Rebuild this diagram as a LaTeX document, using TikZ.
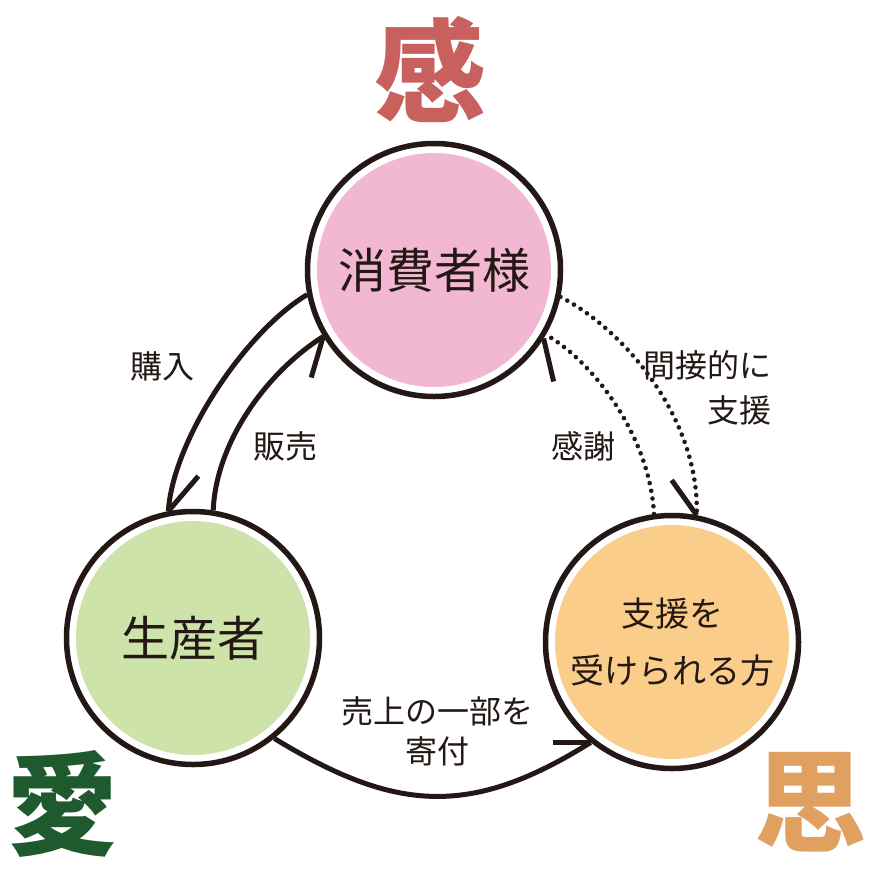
\documentclass[tikz,border=0pt]{standalone}
\usepackage{fontspec}
\setmainfont{Noto Sans CJK JP}
\definecolor{ink}{RGB}{35,24,21}
\definecolor{pinkc}{RGB}{242,184,209}
\definecolor{greenc}{RGB}{205,227,170}
\definecolor{orangec}{RGB}{250,206,138}
\definecolor{kanred}{RGB}{200,96,94}
\definecolor{kangreen}{RGB}{30,90,46}
\definecolor{kanorange}{RGB}{224,160,96}
\begin{document}
\begin{tikzpicture}[x=1pt,y=-1pt,
  ring/.style={circle, draw=ink, line width=5.5pt, minimum size=253pt, inner sep=0pt, text=ink, align=center},
  conn/.style={draw=ink, line width=5pt},
  barb/.style={draw=ink, line width=5pt},
  dotconn/.style={draw=ink, line width=4.6pt, line cap=round, dash pattern=on 0pt off 7.8pt},
  lbl/.style={text=ink, font=\fontsize{32}{40}\selectfont, inner sep=0pt},
  big/.style={inner sep=0pt, font=\fontsize{112}{112}\selectfont\bfseries}]
\useasboundingbox (0,0) rectangle (870,868);

% big kanji
\node[big, text=kanred] (kan) at (430,70) {感};
\node[big, text=kangreen] (ai) at (62,804) {愛};
\node[big, text=kanorange] (omoi) at (810,802) {思};

% circles
\node[ring, font=\fontsize{48}{48}\selectfont,
  path picture={\fill[pinkc] (path picture bounding box.center) circle (117pt);}]
  (top) at (434,270) {消費者様};
\node[ring, font=\fontsize{48}{48}\selectfont,
  path picture={\fill[greenc] (path picture bounding box.center) circle (117pt);}]
  (left) at (193,638) {生産者};
\node[ring, font=\fontsize{34}{57}\selectfont,
  path picture={\fill[orangec] (path picture bounding box.center) circle (117pt);}]
  (right) at (672,642) {支援を\\受けられる方};

% 購入
\draw[conn] (top.191) .. controls (245,332) and (173,440) .. (left.101);
\draw[barb] (left.101) -- ++(30,-35);
% 販売
\draw[conn] (left.81) .. controls (216,442) and (267,372) .. (top.211);
\draw[barb] (top.211) -- ++(-12,41);
% 感謝 (dotted)
\draw[dotconn] (right.98) .. controls (650,438) and (595,363) .. (top.330);
\draw[barb] (top.328) -- ++(10,43);
% 間接的に支援 (dotted)
\draw[dotconn] (top.348.5) .. controls (625,330) and (700,420) .. (right.79);
\draw[barb] (right.79) -- ++(-25,-35);
% 寄付
\draw[conn] (left.309) .. controls (395,812) and (470,818) .. (right.231);
\draw[barb] (right.231) -- ++(-38,0);

% labels
\node[lbl] (l1) at (162,366) {購入};
\node[lbl] (l2) at (285,446) {販売};
\node[lbl] (l3) at (583,446) {感謝};
\node[lbl, align=right, anchor=east, font=\fontsize{32}{45}\selectfont] (l4) at (772,388) {間接的に\\支援};
\node[lbl, align=center] (l5) at (437,731) {売上の一部を\\寄付};
\end{tikzpicture}
\end{document}
